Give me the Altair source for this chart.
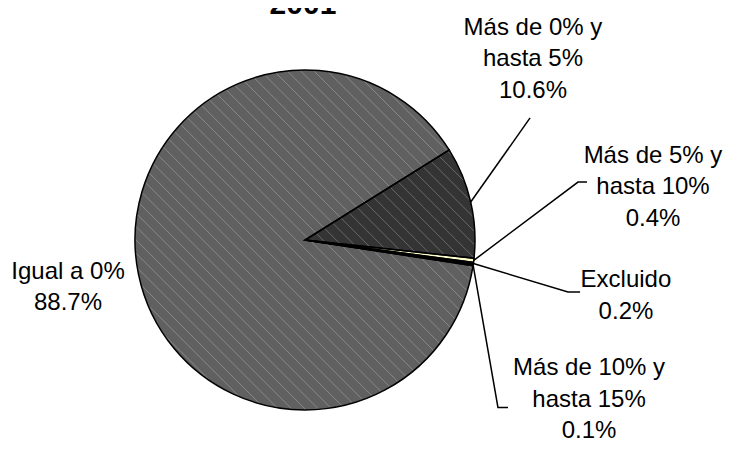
import math
import pandas as pd
import altair as alt

# ---- data ----
categories = ["Más de 0% y hasta 5%", "Más de 5% y hasta 10%", "Excluido",
              "Más de 10% y hasta 15%", "Igual a 0%"]
values = [10.6, 0.4, 0.2, 0.1, 88.7]
label_lines = [["Más de 0% y", "hasta 5%", "10.6%"],
               ["Más de 5% y", "hasta 10%", "0.4%"],
               ["Excluido", "0.2%"],
               ["Más de 10% y", "hasta 15%", "0.1%"],
               ["Igual a 0%", "88.7%"]]
colors = ["#343434", "#FFFFCC", "#0a0a0a", "#222222", "#606060"]
title_text = "2001"

# ---- layout (plot px, radius units) ----
W, H = 717, 437
CX, CY, R = 297, 232, 170
START = math.radians(58)
# label block: centre x, first baseline y (radius units, y up)
label_pos = [(1.341, 1.206), (2.047, 0.453), (1.888, -0.277), (1.671, -0.795), (-1.394, -0.229)]
# leader elbow / end points (radius units); None = no leader
leader_pts = [[(1.324, 0.718)],
              [(1.606, 0.341), (1.659, 0.341)],
              [(1.547, -0.306), (1.618, -0.306)],
              [(1.135, -0.985), (1.194, -0.985)],
              None]

xdom = [(0 - CX) / R, (W - CX) / R]
ydom = [(CY - H) / R, CY / R]
xs = alt.Scale(domain=xdom, nice=False, zero=False)
ys = alt.Scale(domain=ydom, nice=False, zero=False)

pie_df = pd.DataFrame({"cat": categories, "value": values,
                       "ord": list(range(len(values)))})

# leader lines
rows = []
cum = 0.0
for i, v in enumerate(values):
    mid = START + 2 * math.pi * (cum + v / 2) / 100.0
    cum += v
    if leader_pts[i] is None:
        continue
    pts = [(math.sin(mid), math.cos(mid))] + leader_pts[i]
    for k, (px, py) in enumerate(pts):
        rows.append({"cat": categories[i], "k": k, "x": px, "y": py})
lead_df = pd.DataFrame(rows)

lab_df = pd.DataFrame({"cat": categories, "txt": label_lines,
                       "x": [p[0] for p in label_pos], "y": [p[1] for p in label_pos]})

# hatch texture (diagonal chords across the pie)
hrows = []
step = 0.0555
d = -0.98
inv = 1 / math.sqrt(2)
while d < 0.99:
    h = math.sqrt(1 - d * d)
    nx, ny = d * inv, d * inv
    ux, uy = inv, -inv
    hrows.append({"x": nx - h * ux, "y": ny - h * uy, "x2": nx + h * ux, "y2": ny + h * uy})
    d += step
hatch_df = pd.DataFrame(hrows)

theta = alt.Theta("value:Q", stack=True,
                  scale=alt.Scale(range=[START, START + 2 * math.pi]))
color = alt.Color("cat:N", scale=alt.Scale(domain=categories, range=colors), legend=None)

fill = alt.Chart(pie_df).mark_arc(outerRadius=R, strokeWidth=0).encode(
    theta=theta, color=color, order=alt.Order("ord:Q"),
    x=alt.value(CX), y=alt.value(CY))

outline = alt.Chart(pie_df).mark_arc(outerRadius=R, fillOpacity=0, stroke="black",
                                     strokeWidth=1.5).encode(
    theta=theta, order=alt.Order("ord:Q"), x=alt.value(CX), y=alt.value(CY))

hatch = alt.Chart(hatch_df).mark_rule(color="white", opacity=0.26, strokeWidth=1).encode(
    x=alt.X("x:Q", scale=xs, axis=None), y=alt.Y("y:Q", scale=ys, axis=None),
    x2="x2:Q", y2="y2:Q")

leaders = alt.Chart(lead_df).mark_line(color="black", strokeWidth=1.5).encode(
    x=alt.X("x:Q", scale=xs, axis=None), y=alt.Y("y:Q", scale=ys, axis=None),
    detail="cat:N", order="k:Q")

labels = alt.Chart(lab_df).mark_text(font="Liberation Sans", fontSize=24, lineHeight=31.5,
                                     align="center", baseline="alphabetic", color="black").encode(
    x=alt.X("x:Q", scale=xs, axis=None), y=alt.Y("y:Q", scale=ys, axis=None), text="txt")

title_df = pd.DataFrame({"t": [title_text], "x": [-0.012], "y": [1.33]})
title = alt.Chart(title_df).mark_text(font="Liberation Sans", fontSize=30, fontWeight="bold",
                                      align="center", baseline="alphabetic").encode(
    x=alt.X("x:Q", scale=xs, axis=None), y=alt.Y("y:Q", scale=ys, axis=None), text="t")

chart = alt.layer(fill, hatch, outline, leaders, labels, title).properties(
    width=W, height=H, padding=0, autosize="none", background="white"
).configure_view(stroke=None)

chart.save("out.html", embed_options={"renderer": "svg", "actions": False})
